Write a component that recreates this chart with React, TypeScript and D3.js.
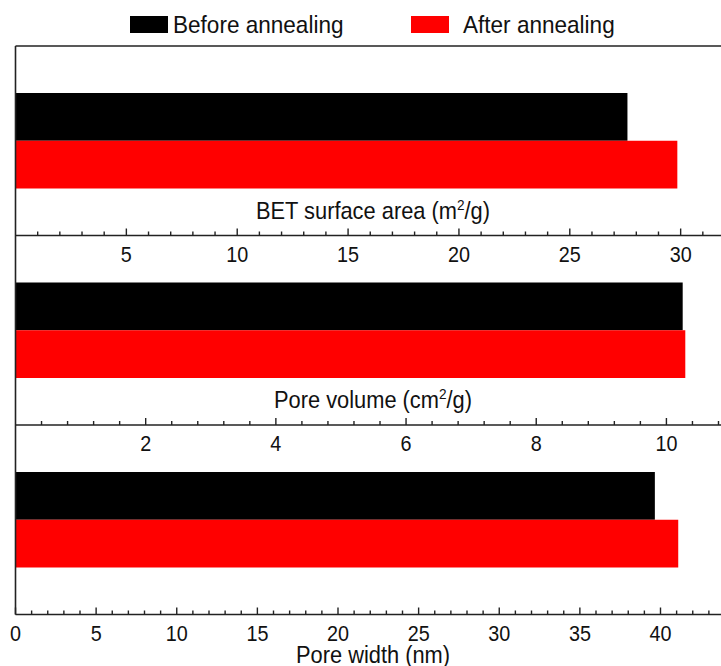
import React from "react";
import * as d3 from "d3";

const seriesNames = ["Before annealing", "After annealing"];
const seriesColors = ["#000000", "#ff0000"];
const metricKeys = ["bet", "volume", "width"];
const metricTitles = ["BET surface area (m", "Pore volume (cm", "Pore width (nm)"];
const metricSuper = ["2", "2", ""];
const metricSuffix = ["/g)", "/g)", ""];
const beforeValues = [27.6, 10.25, 39.65];
const afterValues = [29.85, 10.29, 41.1];
const axisMax = [32, 10.9, 44];
const majorTicks = [
  [5, 10, 15, 20, 25, 30],
  [2, 4, 6, 8, 10],
  [0, 5, 10, 15, 20, 25, 30, 35, 40],
];
const minorSteps = [1, 0.4, 1];

const W = 721;
const H = 666;
const left = 15.5;
const right = 725;
const top = 46;
const bottom = 614.5;
const font = "'Liberation Sans', Arial, sans-serif";

function SText(props: {
  x: number;
  y: number;
  size: number;
  sx: number;
  anchor?: string;
  children: React.ReactNode;
}) {
  return (
    <text
      transform={`translate(${props.x},${props.y}) scale(${props.sx},1)`}
      fontSize={props.size}
      textAnchor={props.anchor || "start"}
      fill="#111"
    >
      {props.children}
    </text>
  );
}

export default function App() {
  const panelScale = d3.scaleBand<string>().domain(metricKeys).range([top, bottom]).padding(0);
  const bw = panelScale.bandwidth();

  return (
    <svg width={W} height={H} style={{ position: "absolute", left: 0, top: 0 }} fontFamily={font}>
      <rect width={W} height={H} fill="#fff" />
      {/* legend */}
      <rect x={130} y={16} width={38} height={17} fill={seriesColors[0]} />
      <SText x={173} y={33} size={24} sx={0.94}>{seriesNames[0]}</SText>
      <rect x={411} y={16} width={38} height={17} fill={seriesColors[1]} />
      <SText x={463} y={33} size={24} sx={0.94}>{seriesNames[1]}</SText>

      {metricKeys.map((k, i) => {
        const pTop = panelScale(k)!;
        const axisY = pTop + bw;
        const x = d3.scaleLinear().domain([0, axisMax[i]]).range([left, right]);
        const y = d3.scaleBand<string>().domain(seriesNames).range([pTop + 47, pTop + 142.5]).padding(0);
        const vals = [beforeValues[i], afterValues[i]];
        const minors = d3.range(0, axisMax[i] + 1e-9, minorSteps[i]).filter(
          (v) => !majorTicks[i].some((m) => Math.abs(m - v) < 1e-6) && v > 1e-6
        );
        return (
          <g key={k}>
            {vals.map((v, j) => (
              <rect
                key={j}
                x={x(0)}
                y={y(seriesNames[j])!}
                width={x(v) - x(0)}
                height={y.bandwidth()}
                fill={seriesColors[j]}
              />
            ))}
            <line x1={left} x2={W} y1={axisY} y2={axisY} stroke="#222" strokeWidth={1.6} />
            {majorTicks[i].map((t) => (
              <g key={t}>
                <line x1={x(t)} x2={x(t)} y1={axisY} y2={axisY - 7} stroke="#222" strokeWidth={1.4} />
                <SText x={x(t)} y={axisY + 26} size={22} sx={0.9} anchor="middle">
                  {t}
                </SText>
              </g>
            ))}
            {minors.map((t) => (
              <line key={t} x1={x(t)} x2={x(t)} y1={axisY} y2={axisY - 4} stroke="#222" strokeWidth={1.4} />
            ))}
            <SText x={373} y={i === 2 ? axisY + 48 : axisY - 17} size={24} sx={0.91} anchor="middle">
              {metricTitles[i]}
              {metricSuper[i] && (
                <tspan fontSize={15} dy={-9}>
                  {metricSuper[i]}
                </tspan>
              )}
              {metricSuffix[i] && <tspan dy={metricSuper[i] ? 9 : 0}>{metricSuffix[i]}</tspan>}
            </SText>
          </g>
        );
      })}

      <line x1={left} x2={W} y1={top} y2={top} stroke="#222" strokeWidth={1.6} />
      <line x1={left} x2={left} y1={top} y2={bottom} stroke="#222" strokeWidth={1.6} />
    </svg>
  );
}
